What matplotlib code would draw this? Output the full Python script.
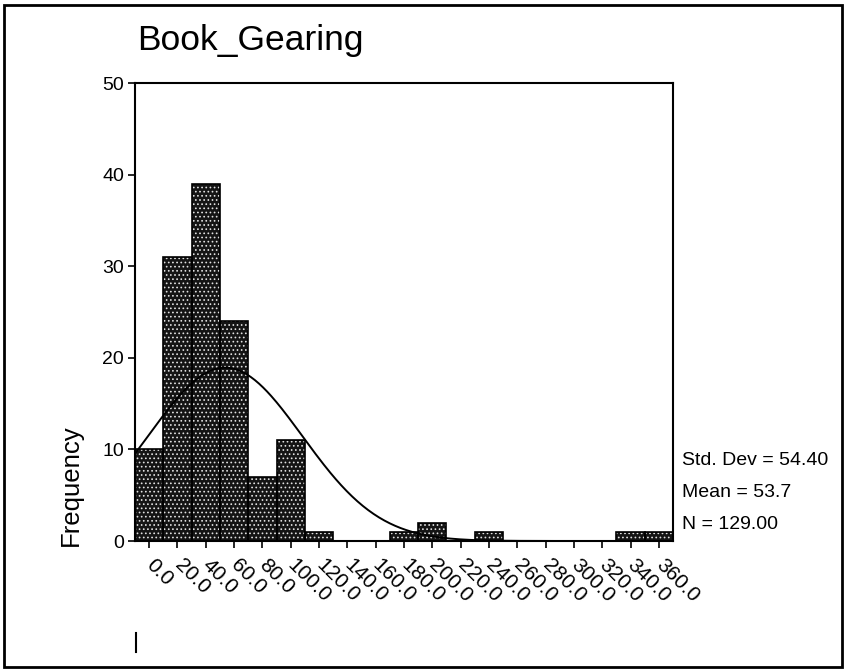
import numpy as np
import matplotlib
matplotlib.use("Agg")
import matplotlib.pyplot as plt
from matplotlib.lines import Line2D
from matplotlib.patches import Rectangle

plt.rcParams["font.family"] = ["Liberation Sans", "DejaVu Sans"]

# frequencies per 20-wide bin, bins centred on 0, 20, ..., 360
bin_centres = [0, 20, 40, 60, 80, 100, 120, 140, 160, 180,
               200, 220, 240, 260, 280, 300, 320, 340, 360]
counts = [10, 31, 39, 24, 7, 11, 1, 0, 0, 1,
          2, 0, 1, 0, 0, 0, 0, 1, 1]
bin_width = 20
std_dev = 54.40
mean = 53.7
n_obs = 129.00

fig = plt.figure(figsize=(8.45, 6.70), dpi=100)
ax = fig.add_axes([135 / 845, 1 - 541 / 670, 538 / 845, 458 / 670])

# halftone-looking bars: white dots on black, then black outlines
plt.rcParams["hatch.linewidth"] = 0.7
ax.bar(bin_centres, counts, width=bin_width, color="#141414",
       edgecolor="#e0e0e0", hatch="....", linewidth=0, zorder=2)
ax.bar(bin_centres, counts, width=bin_width, fill=False,
       edgecolor="black", linewidth=1.2, zorder=3)

# fitted normal curve
xs = np.linspace(-10, 370, 400)
ys = n_obs * bin_width / (std_dev * np.sqrt(2 * np.pi)) * np.exp(-0.5 * ((xs - mean) / std_dev) ** 2)
ax.plot(xs, ys, color="black", linewidth=1.4, zorder=4)

ax.set_xlim(-10, 370)
ax.set_ylim(0, 50)
ax.set_yticks([0, 10, 20, 30, 40, 50])
ax.set_xticks(bin_centres)
ax.set_xticklabels([f"{c:.1f}" for c in bin_centres], rotation=-45,
                   ha="left", va="center", rotation_mode="anchor")
ax.tick_params(axis="both", direction="out", length=5, width=1.2,
               labelsize=14, pad=3)
ax.tick_params(axis="x", pad=10, labelsize=15)
for sp in ax.spines.values():
    sp.set_linewidth(1.5)

fig.text(137 / 845, 1 - 50 / 670, "Book_Gearing", fontsize=25.5,
         ha="left", va="baseline")
fig.text(71 / 845, 1 - 485 / 670, "Frequency", fontsize=18.5,
         rotation=90, ha="center", va="center")

stats = [f"Std. Dev = {std_dev:.2f}", f"Mean = {mean:.1f}", f"N = {n_obs:.2f}"]
for i, s in enumerate(stats):
    fig.text(682 / 845, 1 - (465 + 32 * i) / 670, s, fontsize=14,
             ha="left", va="baseline")

# outer frame and stray mark
fig.patches.append(Rectangle((4 / 845, 3 / 670), 838 / 845, 662 / 670,
                             transform=fig.transFigure, fill=False,
                             edgecolor="black", linewidth=2))
fig.lines.append(Line2D([136 / 845, 136 / 845], [1 - 633 / 670, 1 - 652 / 670],
                        transform=fig.transFigure, color="black", linewidth=1.5))

fig.savefig("out.png", dpi=100)
